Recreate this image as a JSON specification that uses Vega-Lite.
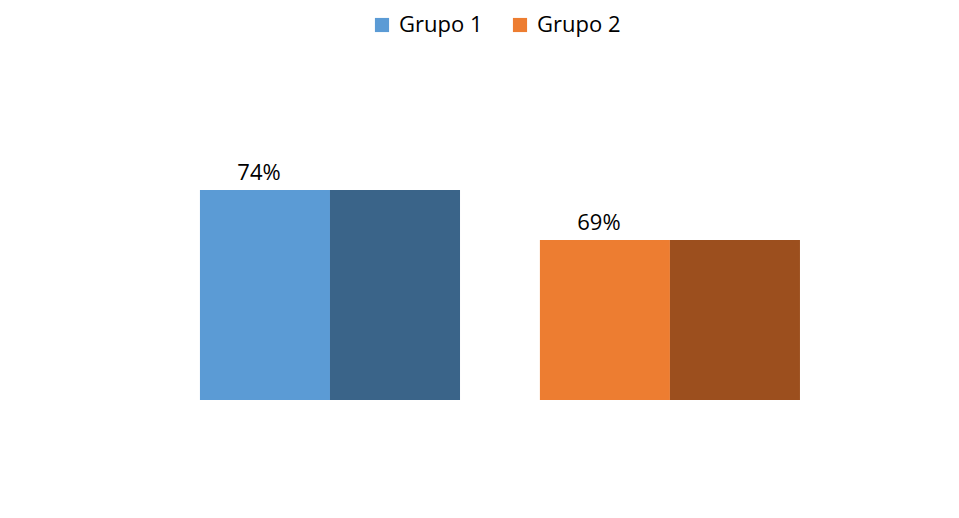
{
  "$schema": "https://vega.github.io/schema/vega-lite/v6.json",
  "width": 959,
  "height": 518,
  "autosize": {"type": "fit", "contains": "padding"},
  "padding": 0,
  "background": "white",
  "config": {"view": {"stroke": null}, "font": "Open Sans"},
  "data": {
    "values": [
      {"grupo": "Grupo 1", "face": "front", "value": 0.74},
      {"grupo": "Grupo 1", "face": "side", "value": 0.74},
      {"grupo": "Grupo 2", "face": "front", "value": 0.69},
      {"grupo": "Grupo 2", "face": "side", "value": 0.69}
    ]
  },
  "encoding": {
    "x": {
      "field": "grupo", "type": "nominal", "axis": null,
      "scale": {"paddingInner": 0.235, "paddingOuter": 0.528, "align": 0.557}
    },
    "xOffset": {"field": "face", "type": "nominal", "scale": {"domain": ["front", "side"], "paddingInner": 0, "paddingOuter": 0}},
    "y": {"field": "value", "type": "quantitative", "axis": null, "scale": {"domain": [0.412, 0.93], "nice": false, "zero": false}}
  },
  "layer": [
    {
      "transform": [{"filter": "datum.face === 'front'"}],
      "mark": {"type": "bar"},
      "encoding": {
        "y2": {"datum": 0.53},
        "color": {
          "field": "grupo", "type": "nominal",
          "scale": {"domain": ["Grupo 1", "Grupo 2"], "range": ["#5B9BD5", "#ED7D31"]},
          "legend": {
            "title": null, "orient": "none", "direction": "horizontal",
            "legendX": 371, "legendY": 14,
            "symbolType": "square", "symbolSize": 200, "symbolStrokeWidth": 0,
            "labelFontSize": 22, "labelColor": "#000000", "labelFont": "Open Sans",
            "columnPadding": 26, "labelOffset": 6
          }
        }
      }
    },
    {
      "transform": [{"filter": "datum.face === 'side'"}],
      "mark": {"type": "bar"},
      "encoding": {
        "y2": {"datum": 0.53},
        "color": {
          "condition": {"test": "datum.grupo === 'Grupo 1'", "value": "#3A6489"},
          "value": "#9C4F1E"
        }
      }
    },
    {
      "transform": [{"filter": "datum.face === 'front'"}],
      "mark": {"type": "text", "dy": -17, "dx": -6, "fontSize": 22, "color": "#000000", "font": "Open Sans"},
      "encoding": {
        "text": {"field": "value", "type": "quantitative", "format": ".0%"}
      }
    }
  ]
}
